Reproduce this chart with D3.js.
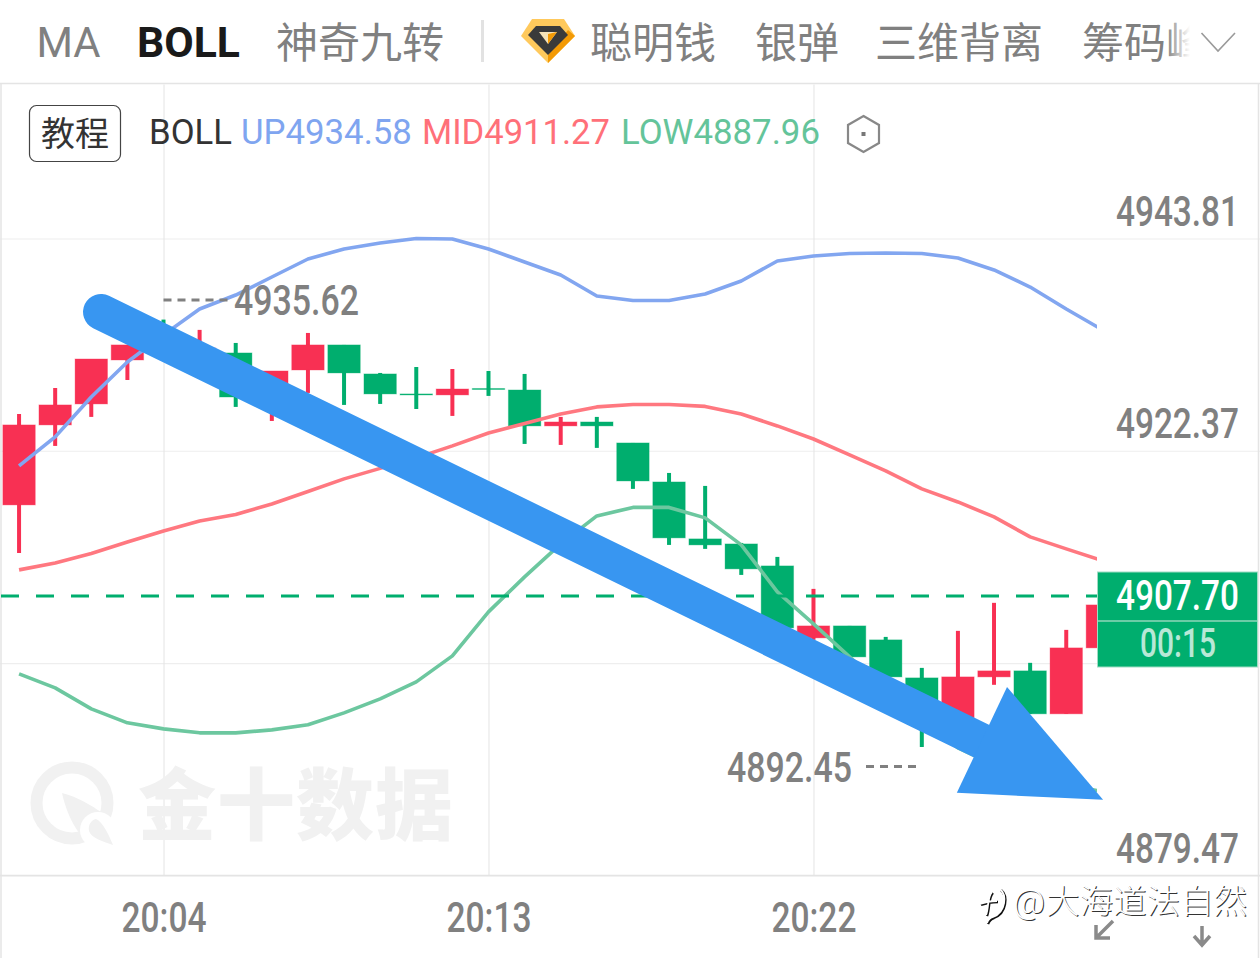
<!DOCTYPE html>
<html><head><meta charset="utf-8">
<script src="https://cdn.jsdelivr.net/npm/d3@7"></script>
<style>html,body{margin:0;padding:0;background:#fff;overflow:hidden}svg{display:block}</style>
</head><body><svg id="c" width="1260" height="958"></svg>
<script>
const times = d3.range(0,31).map(i=>"20:"+String(i).padStart(2,"0"));
const timeTicks = [4,13,22];
const priceTicks = [4943.81,4922.37,4900.92,4879.47];
const priceLabels = [4943.81,4922.37,4879.47];
const opens  = [4916.90,4924.98,4927.10,4931.54,4933.96,4931.34,4932.25,4928.31,4930.53,4933.06,4930.13,4928.11,4928.01,4928.66,4928.51,4924.88,4925.28,4923.16,4919.22,4913.47,4912.96,4910.74,4903.47,4904.68,4903.27,4899.43,4895.39,4899.53,4900.14,4895.80,4902.46];
const highs  = [4926.09,4928.71,4931.64,4933.06,4935.62,4934.58,4933.26,4930.43,4934.27,4933.06,4930.23,4930.83,4930.63,4930.43,4930.13,4925.79,4925.79,4923.16,4920.13,4918.82,4913.06,4911.65,4908.42,4904.68,4903.57,4900.44,4904.18,4907.01,4900.95,4904.28,4906.80];
const lows   = [4912.05,4922.86,4925.79,4929.52,4931.54,4929.62,4926.80,4925.38,4928.21,4927.00,4927.10,4926.59,4925.89,4927.91,4923.06,4922.96,4922.66,4918.52,4912.86,4912.46,4909.83,4904.28,4903.27,4901.25,4899.23,4892.45,4895.19,4898.73,4895.80,4895.80,4902.46];
const closes = [4924.98,4927.00,4931.64,4933.06,4933.06,4932.75,4927.80,4930.43,4933.06,4930.23,4928.11,4928.01,4928.61,4928.56,4924.88,4925.28,4924.88,4919.32,4913.57,4912.86,4910.44,4904.48,4904.68,4901.55,4899.53,4895.70,4899.53,4900.14,4895.80,4902.46,4906.80];
const upper  = [4920.84,4923.77,4927.80,4931.34,4934.07,4936.69,4938.10,4939.92,4941.74,4942.75,4943.35,4943.81,4943.76,4942.75,4941.44,4940.12,4938.00,4937.55,4937.55,4938.20,4939.52,4941.54,4942.04,4942.29,4942.34,4942.29,4941.84,4940.63,4938.91,4936.69,4934.58];
const middle = [4910.34,4911.04,4912.00,4913.16,4914.27,4915.28,4915.94,4917.00,4918.26,4919.53,4920.59,4921.65,4922.86,4924.17,4925.13,4926.09,4926.80,4927.05,4927.05,4926.85,4926.09,4924.88,4923.56,4921.95,4920.33,4918.52,4917.20,4915.69,4913.67,4912.46,4911.27];
const lower  = [4899.84,4898.42,4896.30,4894.89,4894.28,4893.88,4893.88,4894.18,4894.69,4895.90,4897.31,4899.03,4901.65,4906.10,4909.63,4912.96,4915.79,4916.65,4916.65,4915.59,4912.86,4908.12,4904.88,4901.55,4898.22,4895.19,4892.36,4890.65,4889.64,4888.63,4887.96];
const lastPrice = 4907.70, maxPrice = 4935.62, minPrice = 4892.45;
const arrowShaftIndex = [2.27,26.64], arrowShaftPrice = [4936.39,4893.07];
const arrowHeadIndex = [27.36,30.02,25.97], arrowHeadPrice = [4898.52,4887.11,4887.82];

const RED="#f83053",GREEN="#00ae6e",GRAY="#808080",GRID="#eeeeee",BORDER="#e4e4e4",NUM="Roboto, sans-serif",CJK="'Noto Sans CJK SC', sans-serif";
const x=d3.scaleLinear().domain([0,30]).range([19.06,1102.36]);
const y=d3.scaleLinear().domain([4943.81,4879.47]).range([238.5,875.5]);
const svg=d3.select("#c");
const T=(g,s,px,py,o={})=>{
 const t=g.append("text").text(s).attr("x",px).attr("y",py).attr("font-family",o.f||CJK).attr("font-size",o.s||42).attr("font-weight",o.w||400).attr("fill",o.c||GRAY);
 if(o.len){const n=t.node().getComputedTextLength();t.attr("x",0).attr("y",0).attr("transform",`translate(${px},${py}) scale(${o.len/n},1)`);}
 if(o.op)t.attr("opacity",o.op); return t;};
const defs=svg.append("defs");
defs.append("clipPath").attr("id","plot").append("rect").attr("x",0).attr("y",84).attr("width",1097).attr("height",791);
const fade=defs.append("linearGradient").attr("id","fade");
fade.append("stop").attr("offset",0).attr("stop-color","#fff").attr("stop-opacity",0);
fade.append("stop").attr("offset",1).attr("stop-color","#fff").attr("stop-opacity",1);

// grid
const grid=svg.append("g");
grid.append("g").attr("transform","translate(1260,0)").call(d3.axisLeft(y).tickValues(priceTicks).tickSize(1260).tickFormat(""))
 .call(g=>{g.select(".domain").remove();g.selectAll("line").attr("stroke",GRID).attr("stroke-width",1.2);});
grid.append("g").attr("transform","translate(0,875.5)").call(d3.axisTop(x).tickValues(timeTicks).tickSize(791).tickFormat(""))
 .call(g=>{g.select(".domain").remove();g.selectAll("line").attr("stroke",BORDER).attr("stroke-width",1);});
grid.append("line").attr("x1",0).attr("x2",1260).attr("y1",875.5).attr("y2",875.5).attr("stroke",BORDER).attr("stroke-width",1.5);
grid.append("line").attr("x1",0).attr("x2",1260).attr("y1",83.5).attr("y2",83.5).attr("stroke",BORDER).attr("stroke-width",1.5);
grid.append("line").attr("x1",1).attr("x2",1).attr("y1",83).attr("y2",958).attr("stroke",BORDER).attr("stroke-width",1.5);
grid.append("line").attr("x1",1258.5).attr("x2",1258.5).attr("y1",83).attr("y2",958).attr("stroke",BORDER).attr("stroke-width",1.5);

// watermark
const wm=svg.append("g");
wm.append("circle").attr("cx",72).attr("cy",803).attr("r",35.5).attr("fill","none").attr("stroke","#f1f1f1").attr("stroke-width",12);
wm.append("path").attr("d","M62 793 C78 797 92 806 101 812 L80 834 C73 826 65 808 62 793Z").attr("fill","#f1f1f1");
wm.append("circle").attr("cx",98).attr("cy",830).attr("r",18).attr("fill","#fff");
wm.append("path").attr("d","M96 819 C103 822 109 835 113 845 C104 842 91 838 89 831 C88 825 91 820 96 819Z").attr("fill","#f1f1f1");
["金","十","数","据"].forEach((c,i)=>T(wm,c,[138,217,296,375][i],834,{s:78,w:900,c:"#f1f1f1"}));

// candles
const idx=d3.range(times.length);
const plot=svg.append("g").attr("clip-path","url(#plot)");
const col=i=>closes[i]>opens[i]?RED:GREEN;
plot.append("g").selectAll("line").data(idx).join("line")
 .attr("x1",i=>x(i)).attr("x2",i=>x(i)).attr("y1",i=>y(highs[i])).attr("y2",i=>y(lows[i]))
 .attr("stroke",col).attr("stroke-width",4);
const bw=32.4;
plot.append("g").selectAll("rect").data(idx).join("rect")
 .attr("x",i=>x(i)-bw/2).attr("width",bw)
 .attr("y",i=>y(Math.max(opens[i],closes[i])))
 .attr("height",i=>Math.max(1,Math.abs(y(opens[i])-y(closes[i]))))
 .attr("fill",col).attr("stroke",col).attr("stroke-opacity",.35).attr("stroke-width",1);

// bands
const line=d3.line().x((d,i)=>x(i)).y(d=>y(d));
[[lower,"#6cc79f"],[middle,"#ff7880"],[upper,"#82a6f0"]].forEach(([d,c])=>
 plot.append("path").attr("d",line(d)).attr("fill","none").attr("stroke",c).attr("stroke-width",3.6).attr("stroke-linejoin","round"));

// last price dashed
svg.append("line").attr("x1",1).attr("x2",1097).attr("y1",y(lastPrice)).attr("y2",y(lastPrice))
 .attr("stroke",GREEN).attr("stroke-width",3).attr("stroke-dasharray","18 17");

// hi/lo labels
svg.append("line").attr("x1",x(4)).attr("x2",228).attr("y1",y(maxPrice)-19.5).attr("y2",y(maxPrice)-19.5).attr("stroke",GRAY).attr("stroke-width",3).attr("stroke-dasharray","8 6");
T(svg,maxPrice.toFixed(2),234,314.5,{f:NUM,w:500,len:125});
svg.append("line").attr("x1",866).attr("x2",916).attr("y1",y(minPrice)+19.5).attr("y2",y(minPrice)+19.5).attr("stroke",GRAY).attr("stroke-width",3).attr("stroke-dasharray","8 6");
T(svg,minPrice.toFixed(2),727,781.5,{f:NUM,w:500,len:125});

// axis labels
priceLabels.forEach(p=>T(svg,p.toFixed(2),1116,y(p)-12.5,{f:NUM,w:500,len:123}));
timeTicks.forEach(i=>T(svg,times[i],x(i)-42,932,{f:NUM,w:500,len:85}));

// arrow
const arrow=svg.append("g");
arrow.append("path").attr("d",d3.line()(arrowShaftIndex.map((v,i)=>[x(v),y(arrowShaftPrice[i])])))
 .attr("stroke","#3896f1").attr("stroke-width",36).attr("stroke-linecap","round").attr("fill","none");
arrow.append("polygon").attr("points",arrowHeadIndex.map((v,i)=>[x(v),y(arrowHeadPrice[i])].join(",")).join(" ")).attr("fill","#3896f1");

// last price panel
const pan=svg.append("g");
pan.append("rect").attr("x",1097.5).attr("y",572).attr("width",160).attr("height",95).attr("fill",GREEN).attr("stroke","#9fdcc3").attr("stroke-width",1);
pan.append("line").attr("x1",1098).attr("x2",1257).attr("y1",621).attr("y2",621).attr("stroke","#8fd6ba").attr("stroke-width",1.5);
T(pan,lastPrice.toFixed(2),1116,610,{f:NUM,w:500,c:"#fff",len:123});
T(pan,"00:15",1140,657,{f:NUM,w:500,c:"#fff",len:76,s:40,op:.72});

// tabs
const tabs=svg.append("g");
T(tabs,"MA",36.5,57,{f:NUM,len:64});
T(tabs,"BOLL",137,57,{f:NUM,w:700,c:"#1a1a1a",len:103});
T(tabs,"神奇九转",276,58);
tabs.append("rect").attr("x",481).attr("y",20).attr("width",3).attr("height",42).attr("fill","#e2e2e2");
T(tabs,"聪明钱",590,58);T(tabs,"银弹",755,58);T(tabs,"三维背离",875,58);T(tabs,"筹码峰",1082,58);
tabs.append("rect").attr("x",1166).attr("y",15).attr("width",24).attr("height",55).attr("fill","url(#fade)");
tabs.append("rect").attr("x",1190).attr("y",15).attr("width",60).attr("height",55).attr("fill","#fff");
tabs.append("path").attr("d","M1201.5 33 L1218 51 L1235 33").attr("fill","none").attr("stroke","#9a9a9a").attr("stroke-width",1.6);
// gem
const gem=tabs.append("g");
gem.append("polygon").attr("points","532,19 564,19 575,36 548,63 521,36").attr("fill","#ffc95c");
gem.append("polygon").attr("points","568,30 575,36 548,63 548,55").attr("fill","#f39a05");
gem.append("polygon").attr("points","536,26 560,26 568,35 548,55 528,35").attr("fill","#3a3a3a");
gem.append("polygon").attr("points","539,32 557,32 548,44").attr("fill","#f6e3b8");
gem.append("polygon").attr("points","548,34 557,32 548,44").attr("fill","#f39a05");

// legend
const lg=svg.append("g");
lg.append("rect").attr("x",29.5).attr("y",105.5).attr("width",91).attr("height",56).attr("rx",7).attr("fill","#fff").attr("stroke","#444").attr("stroke-width",1.2);
T(lg,"教程",41,146,{s:34,c:"#333"});
T(lg,"BOLL",149,144,{f:NUM,s:35,c:"#333",len:83});
T(lg,"UP"+upper[30].toFixed(2),241,144,{f:NUM,s:35,c:"#7fa5f0",len:171});
T(lg,"MID"+middle[30].toFixed(2),422,144,{f:NUM,s:35,c:"#ff7079",len:188});
T(lg,"LOW"+lower[30].toFixed(2),621,144,{f:NUM,s:35,c:"#64c49a",len:199});
lg.append("polygon").attr("points","863.5,116 879,125 879,143 863.5,152 848,143 848,125").attr("fill","none").attr("stroke","#888").attr("stroke-width",2.2);
lg.append("rect").attr("x",861.5).attr("y",132).attr("width",4).attr("height",4).attr("fill","#777");

// corner icons
const ic=svg.append("g").attr("fill","none").attr("stroke","#8a8a8a").attr("stroke-width",3.5);
ic.append("path").attr("d","M1113 921 L1096 938 M1096 925 V938 H1110");
ic.append("path").attr("d","M1202 926 V944 M1194 936 L1202 945 L1210 936");

// source mark
const mark=svg.append("g");
const logo="M992 892 C987 897 989 908 986 915 M980 904 C985 902 992 901 997 901 M1000 889 C1007 895 1006 912 993 917 C990 918 988 920 987 923";
mark.append("path").attr("d",logo).attr("fill","none").attr("stroke","#111").attr("stroke-width",2.4).attr("transform","translate(1,1)");
mark.append("path").attr("d",logo).attr("fill","none").attr("stroke","#fff").attr("stroke-width",1.8);
["#333","#fff"].forEach((c,k)=>{
 const dx=k?0:1;
 T(mark,"@",1013+dx,913+dx,{f:NUM,s:34,c,w:300,len:32});
 T(mark,"大海道法自然",1046+dx,913+dx,{s:33.5,c,w:300});
});
</script></body></html>
